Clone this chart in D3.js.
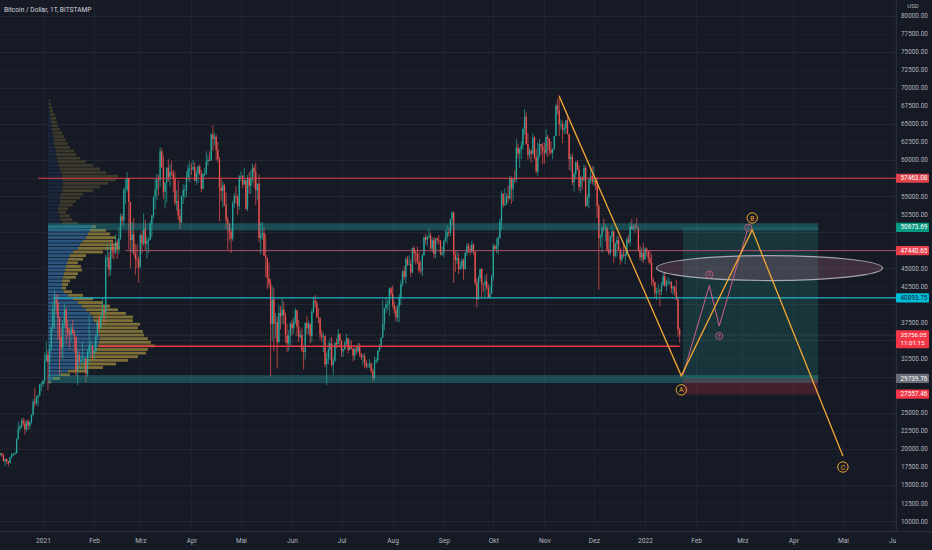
<!DOCTYPE html>
<html><head><meta charset="utf-8">
<script src="https://cdn.jsdelivr.net/npm/d3@7/dist/d3.min.js"></script>
<style>html,body{margin:0;padding:0;background:#161a25;overflow:hidden}svg{display:block}</style>
</head><body><svg id="c" width="932" height="550"></svg>
<script>
// ---------------- DATA ----------------
const title = "Bitcoin / Dollar, 1T, BITSTAMP";
const currency = "USD";
const firstDay = "2020-12-06";
const firstOpen = 19.15; // thousands USD
// daily closes / highs / lows in thousand USD, one row per month (Dec 2020 .. Jan 2022)
const closes = [
 [19.4,19.2,18.3,18.6,18.3,18.0,18.8,19.2,19.3,19.4,21.3,22.8,23.1,23.9,23.5,22.7,23.8,23.2,23.7,24.7,26.5,26.3,27.1,27.4,28.9,29.0],
 [29.4,32.2,33.0,32.0,34.0,36.8,39.4,40.6,40.2,38.2,35.5,34.0,37.4,39.2,36.8,36.0,35.8,36.6,36.0,35.5,30.8,33.0,32.1,32.3,32.4,32.5,30.4,33.4,34.3,34.3,33.1],
 [33.5,35.5,37.6,36.9,38.3,39.2,38.9,46.4,46.5,44.8,48.0,47.4,47.2,48.6,47.9,49.2,52.2,51.6,55.9,55.9,57.5,54.2,48.9,49.7,47.0,46.3,46.2,45.2],
 [49.6,48.4,50.5,48.4,48.8,48.9,51.2,52.3,54.9,55.9,57.3,57.2,61.2,59.0,55.6,56.9,58.9,57.6,58.3,58.1,57.4,54.1,54.3,52.3,51.3,55.0,55.8,55.8,57.6,58.8,58.8],
 [58.7,59.0,57.1,58.2,59.1,58.0,56.0,58.1,58.1,59.8,60.0,59.9,63.5,62.9,63.2,61.4,60.1,56.2,55.7,56.5,53.8,51.7,51.2,50.1,49.1,54.0,55.0,54.8,53.6,57.7],
 [57.8,56.6,57.2,53.2,57.5,56.4,57.4,58.9,58.3,55.8,56.7,49.2,49.7,49.9,46.8,46.4,43.6,42.9,37.3,40.7,37.3,37.5,34.8,38.8,38.4,39.3,38.5,35.7,34.6,35.7,37.3],
 [36.7,37.6,39.2,36.9,35.5,35.8,33.6,33.4,37.4,36.7,37.3,35.6,39.0,40.5,40.2,38.3,38.1,35.8,35.5,35.6,31.7,32.5,33.7,34.6,31.6,32.2,34.7,34.5,35.9,35.0],
 [33.5,33.8,34.7,35.3,33.7,34.2,33.9,32.9,33.8,33.5,34.3,33.1,32.7,32.8,31.9,31.4,31.5,31.8,30.8,29.8,32.1,32.3,33.6,34.3,35.4,37.3,39.5,40.0,40.0,42.2,41.5],
 [39.9,39.2,38.2,39.7,40.9,42.8,44.6,43.8,46.3,45.6,45.6,44.4,47.8,47.1,47.0,45.9,44.7,44.6,46.8,49.3,48.9,49.3,49.5,47.7,48.9,47.0,49.1,48.9,48.8,46.9,47.1],
 [48.8,49.3,50.0,49.9,51.8,52.7,46.9,46.1,46.4,44.9,45.2,46.1,44.9,47.1,48.1,47.7,47.3,48.3,47.3,43.0,40.7,43.6,44.9,42.8,42.7,43.2,42.2,41.0,41.5,43.8],
 [48.1,47.7,48.2,49.2,51.5,55.3,53.8,53.9,55.0,54.7,57.5,56.0,57.4,57.3,61.7,60.9,61.5,62.0,64.3,66.0,62.2,60.7,61.3,60.9,63.1,60.3,58.4,60.6,62.2,61.9,61.3],
 [61.0,63.2,62.9,61.4,61.0,61.5,63.3,67.5,66.9,64.9,64.9,64.2,64.4,65.5,63.6,60.1,60.4,56.9,58.1,59.7,58.7,56.3,57.6,57.2,58.9,53.6,54.8,57.3,57.8,57.0],
 [57.2,56.5,53.6,49.2,49.4,50.6,50.5,50.6,47.6,47.1,49.4,50.1,46.7,48.4,48.9,47.6,46.2,46.9,46.7,46.9,49.0,48.6,50.8,50.4,50.8,50.7,50.6,47.5,46.5,47.1,46.2],
 [47.7,47.3,46.4,45.8,43.4,43.1,41.6,41.8,41.9,41.8,42.7,43.9,42.6,43.1,43.1,43.1,42.2,42.4,41.7,40.7,36.5,35.756]
];
const highs = [
 [19.4,19.4,19.3,18.6,18.6,18.3,18.9,19.4,19.4,19.6,21.5,23.8,23.3,24.2,24.3,24.1,23.9,24.1,23.8,24.8,26.9,28.4,27.4,27.4,29.0,29.3],
 [29.6,33.3,34.8,33.6,34.5,36.9,40.4,41.9,41.4,41.4,38.3,36.6,37.8,40.1,39.6,37.9,36.8,37.3,37.8,36.4,35.5,33.8,33.5,32.9,34.8,32.8,32.6,33.8,38.5,34.9,34.3],
 [34.7,35.9,37.7,38.6,38.3,40.9,39.7,46.8,48.2,47.3,48.6,48.9,48.1,49.7,49.0,50.6,52.6,52.5,56.2,57.5,58.3,57.5,54.2,51.4,52.0,48.4,48.3,46.6],
 [49.8,50.2,52.6,51.7,49.4,49.2,51.5,52.4,54.9,57.4,58.1,57.9,61.8,61.6,60.6,56.9,59.0,60.1,59.4,59.9,58.6,58.4,55.8,57.2,53.2,55.1,56.6,56.5,58.4,59.4,59.8],
 [59.5,60.0,59.7,58.5,59.2,59.4,58.6,58.2,58.9,61.2,60.7,61.2,63.7,64.8,63.8,63.5,62.5,60.4,57.5,57.0,56.7,55.5,52.1,51.2,50.5,54.3,55.4,56.4,55.2,57.9],
 [58.4,57.9,58.9,57.2,57.9,58.3,58.6,59.5,59.3,59.6,56.8,58.0,51.3,51.4,50.6,49.7,46.5,45.8,43.5,42.5,42.2,38.8,38.3,39.9,39.8,40.8,40.4,38.9,37.3,36.4,37.5],
 [37.9,38.2,39.5,39.2,37.9,36.4,36.8,34.1,37.5,38.4,37.7,37.4,39.4,41.0,41.3,40.5,39.5,38.2,36.4,36.1,35.7,33.3,34.8,35.3,35.5,32.7,34.7,35.3,36.6,36.0],
 [35.0,33.9,34.9,35.9,35.3,35.1,35.0,33.9,34.1,34.2,34.6,34.7,33.3,33.1,33.2,32.3,31.9,32.4,31.9,31.1,32.8,32.6,33.7,34.5,35.4,40.6,39.5,40.9,40.6,42.3,42.4],
 [42.6,40.4,39.8,39.9,41.4,43.3,44.7,45.3,46.5,46.7,46.8,46.2,47.9,48.1,47.4,48.0,47.2,46.0,47.0,49.4,49.8,49.5,50.5,49.9,49.2,49.3,49.2,49.3,49.6,48.9,48.0],
 [48.9,50.4,51.0,50.6,51.9,52.9,52.9,47.4,47.4,47.1,45.9,46.4,46.3,47.3,48.5,48.5,48.2,48.8,48.4,47.3,43.6,44.0,44.9,45.0,42.9,44.0,44.3,42.8,42.6,44.1],
 [48.4,48.3,49.2,49.5,51.9,55.7,55.4,56.1,55.4,56.5,57.8,57.7,57.6,58.5,62.9,62.3,61.7,62.6,64.5,67.0,66.6,63.7,61.7,61.4,63.7,63.3,61.5,62.4,62.9,62.2,62.4],
 [62.4,64.3,63.5,63.0,62.6,61.6,63.3,67.8,68.5,69.0,65.6,65.4,65.0,65.5,66.3,63.6,60.8,60.9,58.4,59.8,60.0,59.3,57.8,57.7,59.4,59.2,55.3,57.4,58.9,59.2],
 [59.1,57.4,57.6,53.9,49.7,50.9,51.9,51.2,50.8,50.1,49.5,50.8,50.2,48.6,49.5,49.4,47.9,47.3,48.3,47.5,49.3,49.6,51.4,51.8,51.1,51.2,52.0,50.7,48.1,47.9,48.5],
 [47.9,47.9,47.5,47.5,47.0,43.7,43.1,42.3,42.8,42.2,43.1,44.3,44.5,43.4,43.8,43.5,43.2,42.6,42.6,43.4,41.1,36.8]
];
const lows = [
 [19.0,18.9,18.2,17.6,17.9,17.6,18.0,18.7,19.0,19.1,19.3,21.3,22.4,22.8,23.1,22.0,22.4,22.6,22.7,23.4,24.5,25.8,26.1,25.9,27.3,28.0],
 [28.6,29.0,32.0,28.1,29.9,33.5,36.3,36.6,38.7,35.1,30.4,32.5,32.4,36.7,34.4,35.4,33.9,34.8,35.9,33.4,30.1,28.8,31.4,30.9,32.0,30.8,29.2,30.0,31.9,32.9,32.3],
 [32.3,33.4,35.4,36.2,36.6,38.1,37.4,38.0,45.1,43.8,44.0,46.4,46.2,47.0,46.3,47.0,48.9,50.9,50.8,53.9,55.5,47.6,45.0,47.1,46.8,44.1,45.0,43.0],
 [45.0,47.1,48.1,47.5,46.3,47.1,48.9,49.3,51.9,53.2,54.4,55.1,56.2,58.9,54.6,53.3,54.1,57.0,56.3,57.8,55.5,53.7,53.0,51.7,50.4,51.3,53.9,54.7,54.9,57.1,56.9],
 [57.9,58.5,57.0,56.5,56.8,57.9,55.5,55.9,57.7,57.9,59.2,59.8,59.9,61.3,62.0,60.0,59.7,51.5,54.3,53.4,53.6,50.4,47.5,48.8,47.1,48.8,53.3,53.9,52.4,53.1],
 [57.1,56.1,56.5,53.1,52.9,55.3,55.3,56.9,56.2,53.7,54.5,48.6,46.9,48.9,46.7,43.8,42.1,42.3,30.0,35.0,33.5,35.3,31.1,34.6,36.5,37.2,37.2,34.7,33.4,33.5,34.2],
 [35.7,35.9,37.2,35.6,34.8,35.3,33.4,31.0,32.4,35.8,35.9,34.6,34.8,38.8,39.5,38.1,37.4,35.1,34.8,33.4,31.3,28.8,31.7,32.3,31.3,30.2,32.0,33.9,34.2,34.0],
 [32.7,32.7,33.6,34.4,33.2,33.6,33.8,32.1,32.3,33.1,33.3,32.7,32.3,31.6,31.2,31.1,31.2,31.2,30.5,29.3,29.5,31.8,32.0,33.4,33.9,35.4,36.4,38.8,39.2,38.4,41.1],
 [39.5,38.7,37.6,37.6,37.5,39.9,42.5,43.4,42.8,45.3,45.4,43.8,44.3,45.9,45.5,45.6,44.4,44.2,43.9,46.6,48.3,48.1,49.1,47.6,47.2,46.4,46.4,48.4,48.3,46.8,46.7],
 [46.5,48.6,48.4,49.4,49.5,50.9,43.0,44.5,45.6,44.2,44.8,44.8,43.4,44.8,46.7,47.1,46.8,47.1,46.9,42.6,39.6,40.6,43.1,40.8,41.7,40.8,42.1,40.9,40.8,41.4],
 [43.3,47.4,47.1,46.9,49.1,50.4,53.4,53.6,53.7,54.1,54.5,53.9,54.3,56.8,56.9,60.2,58.9,60.1,61.4,63.5,62.1,60.0,60.2,59.6,60.7,60.1,58.1,57.8,60.3,60.7,59.4],
 [59.5,60.7,60.4,60.7,60.8,60.1,61.4,63.3,66.3,63.3,64.2,62.3,63.6,63.6,63.5,58.6,58.4,56.5,55.6,57.4,58.6,55.7,55.4,55.9,57.0,53.5,53.6,53.3,56.7,56.6],
 [56.4,55.9,52.0,42.0,47.9,47.1,50.1,48.7,47.3,46.8,46.8,48.7,45.7,46.4,46.6,47.5,45.5,45.9,46.5,45.6,46.6,48.4,48.1,50.4,50.2,49.9,50.5,47.3,46.1,45.9,45.7],
 [46.2,46.7,45.7,45.5,42.6,42.5,40.9,40.6,41.3,39.7,41.3,42.5,42.4,41.8,42.6,42.7,41.6,41.3,41.2,40.6,35.5,34.7]
];

// price axis and time axis
const priceTicks = d3.range(10000, 80001, 2500);
const monthTicks = ["2021-01-01","2021-02-01","2021-03-01","2021-04-01","2021-05-01","2021-06-01","2021-07-01","2021-08-01","2021-09-01","2021-10-01","2021-11-01","2021-12-01","2022-01-01","2022-02-01","2022-03-01","2022-04-01","2022-05-01","2022-06-01"];
const monthLabels = ["2021","Feb","Mrz","Apr","Mai","Jun","Jul","Aug","Sep","Okt","Nov","Dez","2022","Feb","Mrz","Apr","Mai","Jun"];

// volume profile (rows of 500 USD from 29000 up), arbitrary volume units
const vpFirstRow = 29000, vpRowSize = 500;
const vpTotal = [3,12,22,40,55,68,80,90,98,100,107,103,100,96,95,90,92,85,85,78,70,62,55,45,35,24,18,20,22,28,30,34,33,30,35,38,55,72,70,65,68,62,58,48,30,24,22,18,20,25,28,32,35,45,52,60,68,70,58,52,45,38,32,28,26,22,20,18,16,14,12,10,9,8,7,5,4,3,2];
const vpUp    = [1,5,12,20,28,33,38,42,45,47,50,51,52,51,50,49,48,46,45,42,38,34,30,25,20,16,14,14,14,15,16,17,18,19,20,22,25,30,32,35,38,40,42,44,14,12,12,10,10,11,12,12,13,14,15,15,15,14,13,12,11,10,9,8,8,7,6,6,5,5,4,4,3,3,2,2,1,1,1];
const valueAreaLow = 29000, valueAreaHigh = 51000;

// horizontal levels
const levelPrices = [57463.08, 47440.65, 40893.75, 34212];
const levelStart  = ["2020-12-29","2021-02-20","2021-01-07","2021-02-04"];
const levelEnd    = [null, null, null, "2022-01-22"];
const currentPrice = 35756.05;
const countdown = "11:01:15";

// zones
const zoneLow  = [50250, 29100];
const zoneHigh = [51230, 30200];
const zoneFrom = "2021-01-04", zoneTo = "2022-04-16";

// long position tool
const posFrom = "2022-01-24", posTo = "2022-04-16";
const posEntry = 29739.76, posTarget = 50673.69, posStop = 27557.46;

// ABC projection
const abcDates  = ["2021-11-10","2022-01-23","2022-03-07","2022-05-01"];
const abcPrices = [68800, 30100, 50300, 19000];
const abcNames  = ["", "A", "B", "C"];
const subDates  = ["2022-01-24","2022-02-09","2022-02-15","2022-03-04"];
const subPrices = [30200, 42600, 37000, 50200];
const subNames  = ["", "A", "B", "C"];

// ellipse
const ellDates = ["2022-01-08","2022-05-25"];
const ellPrices = [43300, 46750];

// price labels on the axis
const axisLabelValues = [57463.08, 50673.69, 47440.65, 40893.75, 29739.76, 27557.46];

// ---------------- DRAW ----------------
const parse = d3.timeParse("%Y-%m-%d");
const svg = d3.select("#c");
const W = 932, H = 550, plotR = 896, plotB = 531;
const FONT = "Roboto, 'Liberation Sans', Arial, sans-serif";

const x = d3.scaleTime().domain([parse("2021-01-01"), parse("2022-01-01")]).range([43, 645]);
const y = d3.scaleLinear().domain([10000, 80000]).range([521, 15.5]);

svg.append("rect").attr("width", W).attr("height", H).attr("fill", "#161a25");
const defs = svg.append("defs");
defs.append("clipPath").attr("id", "plot")
  .append("rect").attr("x", 0).attr("y", 0).attr("width", plotR).attr("height", plotB);
defs.append("clipPath").attr("id", "tclip")
  .append("rect").attr("x", 0).attr("y", 0).attr("width", plotR).attr("height", H - plotB);

// build candles
const cl = closes.flat(), hi = highs.flat(), lo = lows.flat();
const n = Math.min(cl.length, hi.length, lo.length);
const day0 = parse(firstDay);
const candles = [];
for (let i = 0; i < n; i++) {
  const o = i === 0 ? firstOpen : cl[i - 1];
  candles.push({d: d3.timeDay.offset(day0, i), o: o * 1000, h: hi[i] * 1000, l: lo[i] * 1000, c: cl[i] * 1000});
}

// grid
const grid = svg.append("g").attr("clip-path", "url(#plot)");
grid.selectAll("line.h").data(priceTicks).join("line")
  .attr("x1", 0).attr("x2", plotR).attr("y1", d => Math.round(y(d)) + 0.5).attr("y2", d => Math.round(y(d)) + 0.5)
  .attr("stroke", d => d % 5000 === 0 ? "#222633" : "#1c202b").attr("stroke-width", 1);
grid.selectAll("line.v").data(monthTicks.map(parse)).join("line")
  .attr("y1", 0).attr("y2", plotB).attr("x1", d => Math.round(x(d)) + 0.5).attr("x2", d => Math.round(x(d)) + 0.5)
  .attr("stroke", "#1e2230").attr("stroke-width", 1);

const plot = svg.append("g").attr("clip-path", "url(#plot)");

// volume profile
const vpX0 = x(parse(zoneFrom));
const vw = d3.scaleLinear().domain([0, d3.max(vpTotal)]).range([0, 107]);
const rows = vpTotal.map((t, i) => ({p: vpFirstRow + i * vpRowSize, t, u: vpUp[i]}));
const vpg = plot.append("g");
rows.forEach(r => {
  const top = y(r.p + vpRowSize), bot = y(r.p);
  const inside = r.p >= valueAreaLow && r.p < valueAreaHigh;
  const h = (bot - top) * 0.78;
  const yy = top + (bot - top - h) / 2;
  vpg.append("rect").attr("x", vpX0).attr("y", yy).attr("width", vw(r.u)).attr("height", h)
    .attr("fill", inside ? "#2a5680" : "#1a263a");
  vpg.append("rect").attr("x", vpX0 + vw(r.u)).attr("y", yy).attr("width", vw(r.t - r.u)).attr("height", h)
    .attr("fill", inside ? "#7d6f37" : "#3d3a2c");
});

// candles
const cw = 1.3;
const cg = plot.append("g");
cg.selectAll("line").data(candles).join("line")
  .attr("x1", d => x(d.d)).attr("x2", d => x(d.d)).attr("y1", d => y(d.h)).attr("y2", d => y(d.l))
  .attr("stroke", d => d.c >= d.o ? "#26a69a" : "#ef5350").attr("stroke-width", 0.7);
cg.selectAll("rect").data(candles).join("rect")
  .attr("x", d => x(d.d) - cw / 2).attr("width", cw)
  .attr("y", d => y(Math.max(d.o, d.c))).attr("height", d => Math.max(0.8, Math.abs(y(d.o) - y(d.c))))
  .attr("fill", d => d.c >= d.o ? "#26a69a" : "#ef5350");

// zones
plot.selectAll("rect.zone").data(zoneLow).join("rect")
  .attr("x", x(parse(zoneFrom))).attr("width", x(parse(zoneTo)) - x(parse(zoneFrom)))
  .attr("y", (d, i) => y(zoneHigh[i])).attr("height", (d, i) => y(d) - y(zoneHigh[i]))
  .attr("fill", "#26a6a6").attr("fill-opacity", 0.36);

// position tool
const px0 = x(parse(posFrom)), px1 = x(parse(posTo));
plot.append("rect").attr("x", px0).attr("width", px1 - px0).attr("y", y(posTarget)).attr("height", y(posEntry) - y(posTarget))
  .attr("fill", "#26a69a").attr("fill-opacity", 0.2);
plot.append("rect").attr("x", px0).attr("width", px1 - px0).attr("y", y(posEntry)).attr("height", y(posStop) - y(posEntry))
  .attr("fill", "#f23645").attr("fill-opacity", 0.2);

// current price line
plot.append("line").attr("x1", 0).attr("x2", plotR).attr("y1", y(currentPrice)).attr("y2", y(currentPrice))
  .attr("stroke", "#6a6e7a").attr("stroke-width", 0.8).attr("stroke-dasharray", "1,1.5").attr("opacity", 0.8);

// levels
const levelColor = ["#e0434b", "#c2546a", "#22b4c8", "#f23645"];
const levelWidth = [1, 0.9, 1.3, 1.5];
levelPrices.forEach((p, i) => {
  plot.append("line")
    .attr("x1", x(parse(levelStart[i]))).attr("x2", levelEnd[i] ? x(parse(levelEnd[i])) : plotR)
    .attr("y1", y(p)).attr("y2", y(p)).attr("stroke", levelColor[i]).attr("stroke-width", levelWidth[i]);
});

// ellipse
const ex0 = x(parse(ellDates[0])), ex1 = x(parse(ellDates[1]));
plot.append("ellipse").attr("cx", (ex0 + ex1) / 2).attr("cy", (y(ellPrices[0]) + y(ellPrices[1])) / 2)
  .attr("rx", (ex1 - ex0) / 2).attr("ry", (y(ellPrices[0]) - y(ellPrices[1])) / 2)
  .attr("fill", "rgba(205,125,150,0.22)").attr("stroke", "rgba(215,215,225,0.7)").attr("stroke-width", 1.2);

// sub wave (pink)
const PINK = "#cf5f86";
const subPts = subDates.map((d, i) => [x(parse(d)), y(subPrices[i])]);
plot.append("path").attr("d", d3.line()(subPts)).attr("fill", "none").attr("stroke", PINK).attr("stroke-width", 1);
const subOff = [0, -11, 10, -3];
subPts.forEach((p, i) => {
  if (!subNames[i]) return;
  const g = plot.append("g").attr("transform", `translate(${p[0] + (i === 3 ? 1 : 0)},${p[1] + subOff[i]})`);
  g.append("circle").attr("r", 3.6).attr("fill", "none").attr("stroke", PINK).attr("stroke-width", 0.8);
  g.append("text").text(subNames[i]).attr("text-anchor", "middle").attr("dy", "0.35em")
    .attr("font-family", FONT).attr("font-size", 4.5).attr("fill", PINK);
});

// ABC (orange)
const ORANGE = "#f2a631";
const abcPts = abcDates.map((d, i) => [x(parse(d)), y(abcPrices[i])]);
plot.append("path").attr("d", d3.line()(abcPts)).attr("fill", "none").attr("stroke", ORANGE).attr("stroke-width", 1.3);
const abcOff = [0, 14, -12, 11];
abcPts.forEach((p, i) => {
  if (!abcNames[i]) return;
  const g = plot.append("g").attr("transform", `translate(${p[0]},${p[1] + abcOff[i]})`);
  g.append("circle").attr("r", 5.2).attr("fill", "rgba(22,26,37,0.3)").attr("stroke", ORANGE).attr("stroke-width", 1);
  g.append("text").text(abcNames[i]).attr("text-anchor", "middle").attr("dy", "0.36em")
    .attr("font-family", FONT).attr("font-size", 7).attr("fill", ORANGE);
});

// axes borders
svg.append("line").attr("x1", plotR + 0.5).attr("x2", plotR + 0.5).attr("y1", 0).attr("y2", plotB).attr("stroke", "#2a2e39");
svg.append("line").attr("x1", 0).attr("x2", W).attr("y1", plotB + 0.5).attr("y2", plotB + 0.5).attr("stroke", "#2a2e39");

// right price axis (tick labels hidden where a price label sits)
const labelYs = axisLabelValues.map(v => y(v)).concat([y(currentPrice), y(currentPrice) + 8]);
const visibleTicks = priceTicks.filter(t => labelYs.every(ly => Math.abs(y(t) - ly) > 8.5));
const ya = svg.append("g").attr("transform", `translate(${plotR},0)`)
  .call(d3.axisRight(y).tickValues(visibleTicks).tickSize(0).tickPadding(5).tickFormat(d => d.toFixed(2)));
ya.select(".domain").remove();
ya.selectAll("text").attr("font-family", FONT).attr("font-size", 6.4).attr("fill", "#b2b5be");

// bottom time axis
const xa = svg.append("g").attr("transform", `translate(0,${plotB})`).attr("clip-path", "url(#tclip)")
  .call(d3.axisBottom(x).tickValues(monthTicks.map(parse)).tickSize(0).tickPadding(7).tickFormat((d, i) => monthLabels[i]));
xa.select(".domain").remove();
xa.selectAll("text").attr("font-family", FONT).attr("font-size", 6.6).attr("fill", "#b2b5be");

// axis price labels
const labelBg = ["#e0434b", "#089981", "#e8414e", "#00bcd4", "#6a6d78", "#f23645"];
const labelFg = ["#ffffff", "#ffffff", "#ffffff", "#13234a", "#ffffff", "#ffffff"];
axisLabelValues.forEach((v, i) => {
  const yy = y(v);
  svg.append("rect").attr("x", plotR).attr("y", yy - 4.6).attr("width", 33).attr("height", 9.2).attr("rx", 1).attr("fill", labelBg[i]);
  svg.append("text").text(v.toFixed(2)).attr("x", plotR + 4.5).attr("y", yy).attr("dy", "0.34em")
    .attr("font-family", FONT).attr("font-size", 6.4).attr("fill", labelFg[i]);
});
// current price label with countdown
{
  const yy = y(currentPrice);
  svg.append("rect").attr("x", plotR).attr("y", yy - 4.8).attr("width", 33).attr("height", 18).attr("rx", 1).attr("fill", "#f23645");
  svg.append("text").text(currentPrice.toFixed(2)).attr("x", plotR + 4.5).attr("y", yy - 0.3).attr("dy", "0.34em")
    .attr("font-family", FONT).attr("font-size", 6.2).attr("fill", "#ffffff");
  svg.append("text").text(countdown).attr("x", plotR + 4.5).attr("y", yy + 8).attr("dy", "0.34em")
    .attr("font-family", FONT).attr("font-size", 6.2).attr("fill", "#ffffff");
}

// title & currency
svg.append("text").text(title).attr("x", 4).attr("y", 11.5).attr("font-family", FONT).attr("font-size", 6.6).attr("fill", "#d1d4dc");
svg.append("text").text(currency).attr("x", 913).attr("y", 7.5).attr("text-anchor", "middle").attr("font-family", FONT).attr("font-size", 6).attr("fill", "#b2b5be");
</script></body></html>
